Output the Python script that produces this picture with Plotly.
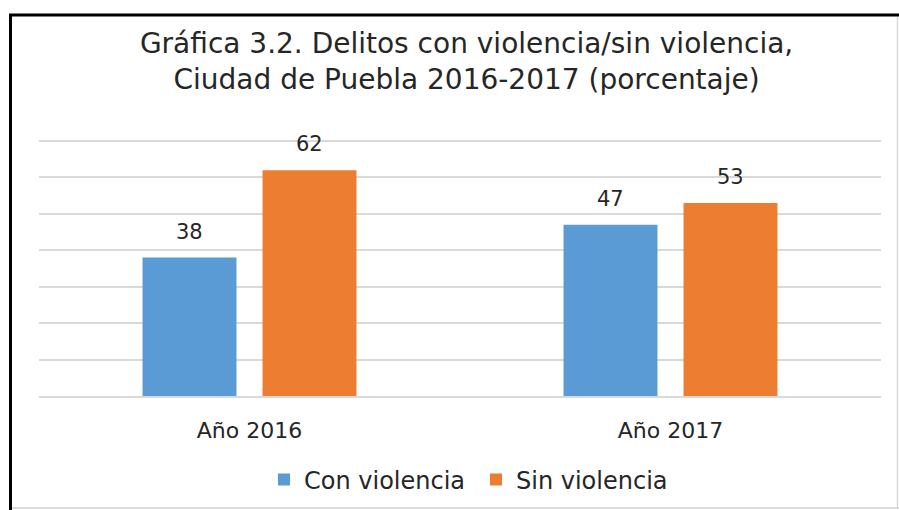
import plotly.graph_objects as go

categories = ["Año 2016", "Año 2017"]
con_violencia = [38, 47]
sin_violencia = [62, 53]
series_names = ["Con violencia", "Sin violencia"]
series_colors = ["#5B9BD5", "#ED7D31"]
title_text = "Gráfica 3.2. Delitos con violencia/sin violencia,<br>Ciudad de Puebla 2016-2017 (porcentaje)"

FONT = "DejaVu Sans"
W, H = 899, 510
ML, MR, MT, MB = 39, 18, 139, 114

fig = go.Figure()
for name, vals, col in zip(series_names, [con_violencia, sin_violencia], series_colors):
    fig.add_trace(go.Bar(x=categories, y=vals, name=name, marker=dict(color=col, line=dict(width=0))))

# data labels
for i, vals in enumerate([con_violencia, sin_violencia]):
    for c, v in zip(categories, vals):
        fig.add_annotation(x=c, y=v, xref="x", yref="y", text=str(v), showarrow=False,
                           xshift=(-60 if i == 0 else 60), yshift=12, yanchor="bottom",
                           font=dict(family=FONT, size=21, color="#262626"))

pw = W - ML - MR
ph = H - MT - MB
def px_x(p): return (p - ML) / pw
def px_y(p): return (H - MB - p) / ph

# frame
fig.add_shape(type="line", xref="paper", yref="paper", x0=px_x(9), x1=px_x(899), y0=px_y(15), y1=px_y(15),
              line=dict(color="black", width=3))
fig.add_shape(type="line", xref="paper", yref="paper", x0=px_x(10.5), x1=px_x(10.5), y0=px_y(14), y1=px_y(510),
              line=dict(color="black", width=3))
fig.add_shape(type="line", xref="paper", yref="paper", x0=px_x(897.5), x1=px_x(897.5), y0=px_y(17), y1=px_y(508),
              line=dict(color="#d9d9d9", width=1.5))
fig.add_shape(type="line", xref="paper", yref="paper", x0=px_x(12), x1=px_x(899), y0=px_y(508), y1=px_y(508),
              line=dict(color="#d9d9d9", width=2))

fig.update_layout(
    width=W, height=H,
    margin=dict(l=ML, r=MR, t=MT, b=MB, pad=0, autoexpand=False),
    paper_bgcolor="white", plot_bgcolor="white",
    barmode="group", bargap=0.43, bargroupgap=0.217,
    title=dict(text=title_text, x=0.519, xanchor="center", y=1 - 53 / H, yanchor="top", yref="container",
               font=dict(family=FONT, size=28, color="#262626")),
    font=dict(family=FONT, color="#262626"),
    legend=dict(orientation="h", x=px_x(264), xanchor="left", y=px_y(480), yanchor="middle",
                font=dict(family=FONT, size=24, color="#262626"), itemwidth=30, traceorder="normal",
                entrywidth=167, entrywidthmode="pixels"),
    showlegend=True,
)
fig.update_xaxes(showgrid=False, showline=True, linecolor="#d9d9d9", linewidth=1.5,
                 tickfont=dict(family=FONT, size=22, color="#262626"), ticks="", ticklabelstandoff=14)
fig.update_yaxes(range=[0, 70.55], dtick=10, showgrid=True, gridcolor="#d9d9d9", gridwidth=1.5,
                 showticklabels=False, zeroline=False, showline=False)

fig.write_html("out.html", config={"displayModeBar": False},
               post_script="document.body.style.margin='0';")
